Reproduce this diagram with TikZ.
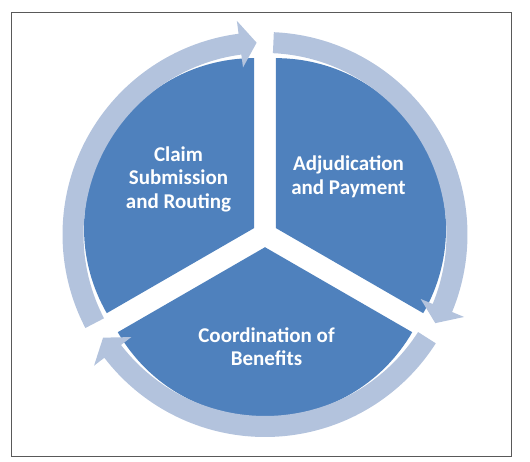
\documentclass[tikz,border=0pt]{standalone}
\usepackage{fontspec}
\setmainfont{Carlito}
\definecolor{slicefill}{HTML}{4F81BD}
\definecolor{ringfill}{HTML}{B3C3DD}
\definecolor{framegray}{HTML}{595959}

\begin{document}
\begin{tikzpicture}[
  x=1pt,
  y=1pt,
  every node/.style={font=\fontsize{21}{23.5}\selectfont\bfseries, text=white, align=center},
  slice/.style={fill=slicefill},
  ring/.style={fill=ringfill}
]
\useasboundingbox (-265,-226.5) rectangle (265,234.5);
\draw[framegray, line width=0.8pt] (-254,-222.2) rectangle (246,222.2);

% exploded pie
\fill[slice, shift={(150:12.7)}] (0,0) -- (90:170) arc[start angle=90, end angle=210, radius=170] -- cycle;
\fill[slice, shift={(30:12.7)}] (0,0) -- (-30:170) arc[start angle=-30, end angle=90, radius=170] -- cycle;
\fill[slice, shift={(270:12.7)}] (0,0) -- (210:170) arc[start angle=210, end angle=330, radius=170] -- cycle;

% ring arrows
\fill[ring] (207.5:202.5) arc[start angle=207.5, end angle=97.5, radius=202.5] -- (97.5:215.5) -- (92.5:192) -- (97.5:168.5) -- (97.5:181.5) arc[start angle=97.5, end angle=207.5, radius=181.5] -- cycle;
\fill[ring] (87.5:202.5) arc[start angle=87.5, end angle=-22.5, radius=202.5] -- (-22.5:215.5) -- (-27.5:192) -- (-22.5:168.5) -- (-22.5:181.5) arc[start angle=-22.5, end angle=87.5, radius=181.5] -- cycle;
\fill[ring] (-32.5:202.5) arc[start angle=-32.5, end angle=-142.5, radius=202.5] -- (-142.5:215.5) -- (-147.5:192) -- (-142.5:168.5) -- (-142.5:181.5) arc[start angle=-142.5, end angle=-32.5, radius=181.5] -- cycle;

\node (claim) at (-86.5,55.5) {Claim\\Submission\\and Routing};
\node (adjud) at (83.5,57.5) {Adjudication\\and Payment};
\node (coord) at (1.5,-112.2) {Coordination of\\Benefits};
\end{tikzpicture}
\end{document}
